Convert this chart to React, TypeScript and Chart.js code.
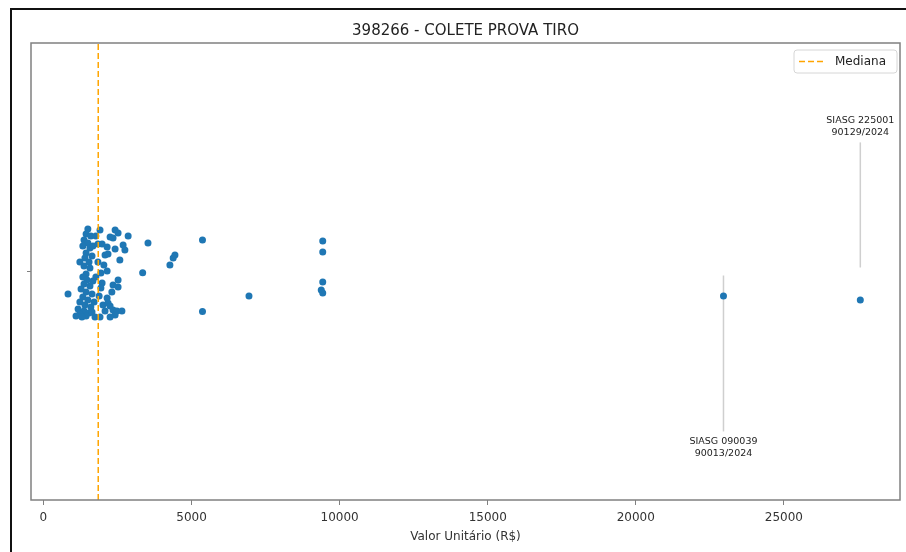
import React, { useEffect, useRef } from "react";
import { Chart, registerables } from "chart.js";

Chart.register(...registerables);

const TITLE = "398266 - COLETE PROVA TIRO";
const X_LABEL = "Valor Unitário (R$)";
const LEGEND_LABEL = "Mediana";
const MEDIAN = 1850;
const X_TICKS = [0, 5000, 10000, 15000, 20000, 25000];

const PRICES = [
  1500, 1440, 1600, 1370, 1500, 1330, 1570, 1440, 1640, 1400,
  1540, 1370, 1570, 1440, 1330, 1470, 1370, 1570, 1270, 1440,
  1640, 1330, 1500, 1230, 1400, 1600, 1170, 1370, 1540, 1230,
  1440, 1640, 1710, 1670, 830, 1100, 1300, 1740, 1670, 1230,
  1840, 1840, 1940, 2150, 1980, 1940, 2150, 2010, 2180, 2250,
  2350, 2480, 2650, 2420, 2080, 2520, 2350, 2520, 2420, 2520,
  2250, 2350, 2860, 1980, 2150, 2420, 2690, 2750, 2080, 2180,
  2580, 1910, 2250, 1880, 2040, 2310, 1770, 1910, 1770,
  3530, 3350, 4270, 4380, 4440, 5370, 5370, 6940,
  9430, 9430, 9430, 9380, 9430, 22960, 27580,
];

const JITTER = [
  0.186, 0.164, 0.155, 0.138, 0.125, 0.112, 0.103, 0.081, 0.068, 0.059,
  0.042, 0.024, 0.015, -0.011, -0.024, -0.037, -0.055, -0.064, -0.077, -0.09,
  -0.098, -0.112, -0.125, -0.133, -0.147, -0.155, -0.164, -0.173, -0.182, -0.186,
  -0.195, -0.177, -0.133, -0.042, -0.098, -0.195, -0.199, -0.199, 0.112, 0.042,
  0.12, 0.042, -0.007, 0.002, -0.05, -0.072, -0.116, -0.147, -0.138, -0.151,
  -0.168, -0.173, -0.173, -0.19, -0.173, -0.037, -0.059, -0.068, 0.182, 0.168,
  0.151, 0.147, 0.155, 0.12, 0.107, 0.098, 0.116, 0.094, 0.072, 0.077,
  0.05, -0.199, -0.199, -0.107, 0.028, -0.09, -0.024, 0.182, 0.155,
  0.125, -0.005, 0.028, 0.059, 0.072, 0.138, -0.175, -0.107,
  0.133, 0.085, -0.046, -0.081, -0.094, -0.107, -0.125,
];

const ANNOT_X = [22960, 27580];
const ANNOT_Y = [-0.77, 0.635];
const ANNOT_TEXT = [
  ["SIASG 090039", "90013/2024"],
  ["SIASG 225001", "90129/2024"],
];

const FONT = "'DejaVu Sans', sans-serif";

const decorPlugin = {
  id: "decor",
  beforeDatasetsDraw(chart: any) {
    const { ctx } = chart;
    const xs = chart.scales.x;
    const ys = chart.scales.y;
    const y0 = ys.getPixelForValue(0);
    const lh = 12;
    ctx.save();
    ctx.strokeStyle = "#cfcfcf";
    ctx.lineWidth = 1.5;
    ANNOT_X.forEach((v, i) => {
      const px = xs.getPixelForValue(v);
      const ty = ys.getPixelForValue(ANNOT_Y[i]);
      const half = (ANNOT_TEXT[i].length * lh) / 2;
      const dir = ty > y0 ? 1 : -1;
      ctx.beginPath();
      ctx.moveTo(px, y0 + dir * 4);
      ctx.lineTo(px, ty - dir * (half + 4));
      ctx.stroke();
    });
    ctx.restore();
  },
  afterDraw(chart: any) {
    const { ctx, chartArea } = chart;
    const xs = chart.scales.x;
    const ys = chart.scales.y;
    ctx.save();
    // outer frame
    ctx.strokeStyle = "#111";
    ctx.lineWidth = 2;
    ctx.strokeRect(11, 9, 1000, 700);
    // axes box
    ctx.strokeStyle = "#808080";
    ctx.lineWidth = 1.5;
    ctx.strokeRect(chartArea.left, chartArea.top, chartArea.right - chartArea.left, chartArea.bottom - chartArea.top);
    // title
    ctx.fillStyle = "#222";
    ctx.font = `15px ${FONT}`;
    ctx.textAlign = "center";
    ctx.textBaseline = "middle";
    ctx.fillText(TITLE, (chartArea.left + chartArea.right) / 2, 31);
    // annotations text
    ctx.font = `9.5px ${FONT}`;
    const lh = 12;
    ANNOT_X.forEach((v, i) => {
      const px = xs.getPixelForValue(v);
      const ty = ys.getPixelForValue(ANNOT_Y[i]);
      const lines = ANNOT_TEXT[i];
      const startY = ty - ((lines.length - 1) * lh) / 2;
      lines.forEach((t, k) => ctx.fillText(t, px, startY + k * lh));
    });
    // legend
    const bw = 103;
    const bh = 23;
    const bx = chartArea.right - 3 - bw;
    const by = chartArea.top + 7;
    ctx.fillStyle = "#fff";
    ctx.strokeStyle = "#d6d6d6";
    ctx.lineWidth = 1;
    ctx.beginPath();
    ctx.roundRect(bx, by, bw, bh, 3);
    ctx.fill();
    ctx.stroke();
    ctx.strokeStyle = "#ffa500";
    ctx.lineWidth = 1.5;
    ctx.setLineDash([6, 3]);
    ctx.beginPath();
    ctx.moveTo(bx + 5, by + bh / 2);
    ctx.lineTo(bx + 31, by + bh / 2);
    ctx.stroke();
    ctx.setLineDash([]);
    ctx.fillStyle = "#222";
    ctx.font = `12px ${FONT}`;
    ctx.textAlign = "left";
    ctx.fillText(LEGEND_LABEL, bx + 41, by + bh / 2);
    ctx.restore();
  },
};

export default function App() {
  const ref = useRef<HTMLCanvasElement | null>(null);
  useEffect(() => {
    if (!ref.current) return;
    const points = PRICES.map((p, i) => ({ x: p, y: JITTER[i] }));
    const chart = new Chart(ref.current, {
      type: "scatter",
      data: {
        datasets: [
          {
            type: "line",
            label: LEGEND_LABEL,
            data: [
              { x: MEDIAN, y: -1 },
              { x: MEDIAN, y: 1 },
            ],
            borderColor: "#ffa500",
            borderWidth: 1.5,
            borderDash: [6, 3],
            pointRadius: 0,
            order: 0,
          } as any,
          {
            label: "Preços",
            data: points,
            backgroundColor: "#1f77b4",
            borderColor: "#1f77b4",
            pointRadius: 3.5,
            borderWidth: 0,
            order: 1,
          },
        ],
      },
      options: {
        responsive: false,
        animation: false,
        devicePixelRatio: 1,
        layout: { padding: { left: 0, top: 43, right: 6, bottom: 0 } },
        plugins: {
          legend: { display: false },
          title: { display: false },
          tooltip: { enabled: false },
        },
        scales: {
          x: {
            type: "linear",
            min: -420,
            max: 28920,
            afterBuildTicks: (s: any) => {
              s.ticks = X_TICKS.map((v) => ({ value: v }));
            },
            afterFit: (s: any) => {
              s.height = 52;
            },
            ticks: {
              color: "#333",
              font: { family: FONT, size: 12 },
              padding: 6,
              maxRotation: 0,
              callback: (v: any) => String(v),
            },
            grid: {
              drawOnChartArea: false,
              drawTicks: true,
              tickLength: 5,
              color: "#808080",
              lineWidth: 1,
            },
            border: { display: false },
            title: {
              display: true,
              text: X_LABEL,
              color: "#333",
              font: { family: FONT, size: 12 },
              padding: { top: 0, bottom: 8 },
            },
          },
          y: {
            type: "linear",
            min: -1,
            max: 1,
            afterBuildTicks: (s: any) => {
              s.ticks = [{ value: 0 }];
            },
            afterFit: (s: any) => {
              s.width = 31;
            },
            ticks: {
              callback: () => "",
              font: { family: FONT, size: 12 },
              padding: 0,
            },
            grid: {
              drawOnChartArea: false,
              drawTicks: true,
              tickLength: 4,
              color: "#808080",
            },
            border: { display: false },
          },
        },
      },
      plugins: [decorPlugin],
    });
    return () => chart.destroy();
  }, []);
  return (
    <div style={{ position: "fixed", left: 0, top: 0, width: 906, height: 552, background: "#fff" }}>
      <canvas ref={ref} width={906} height={552} />
    </div>
  );
}
